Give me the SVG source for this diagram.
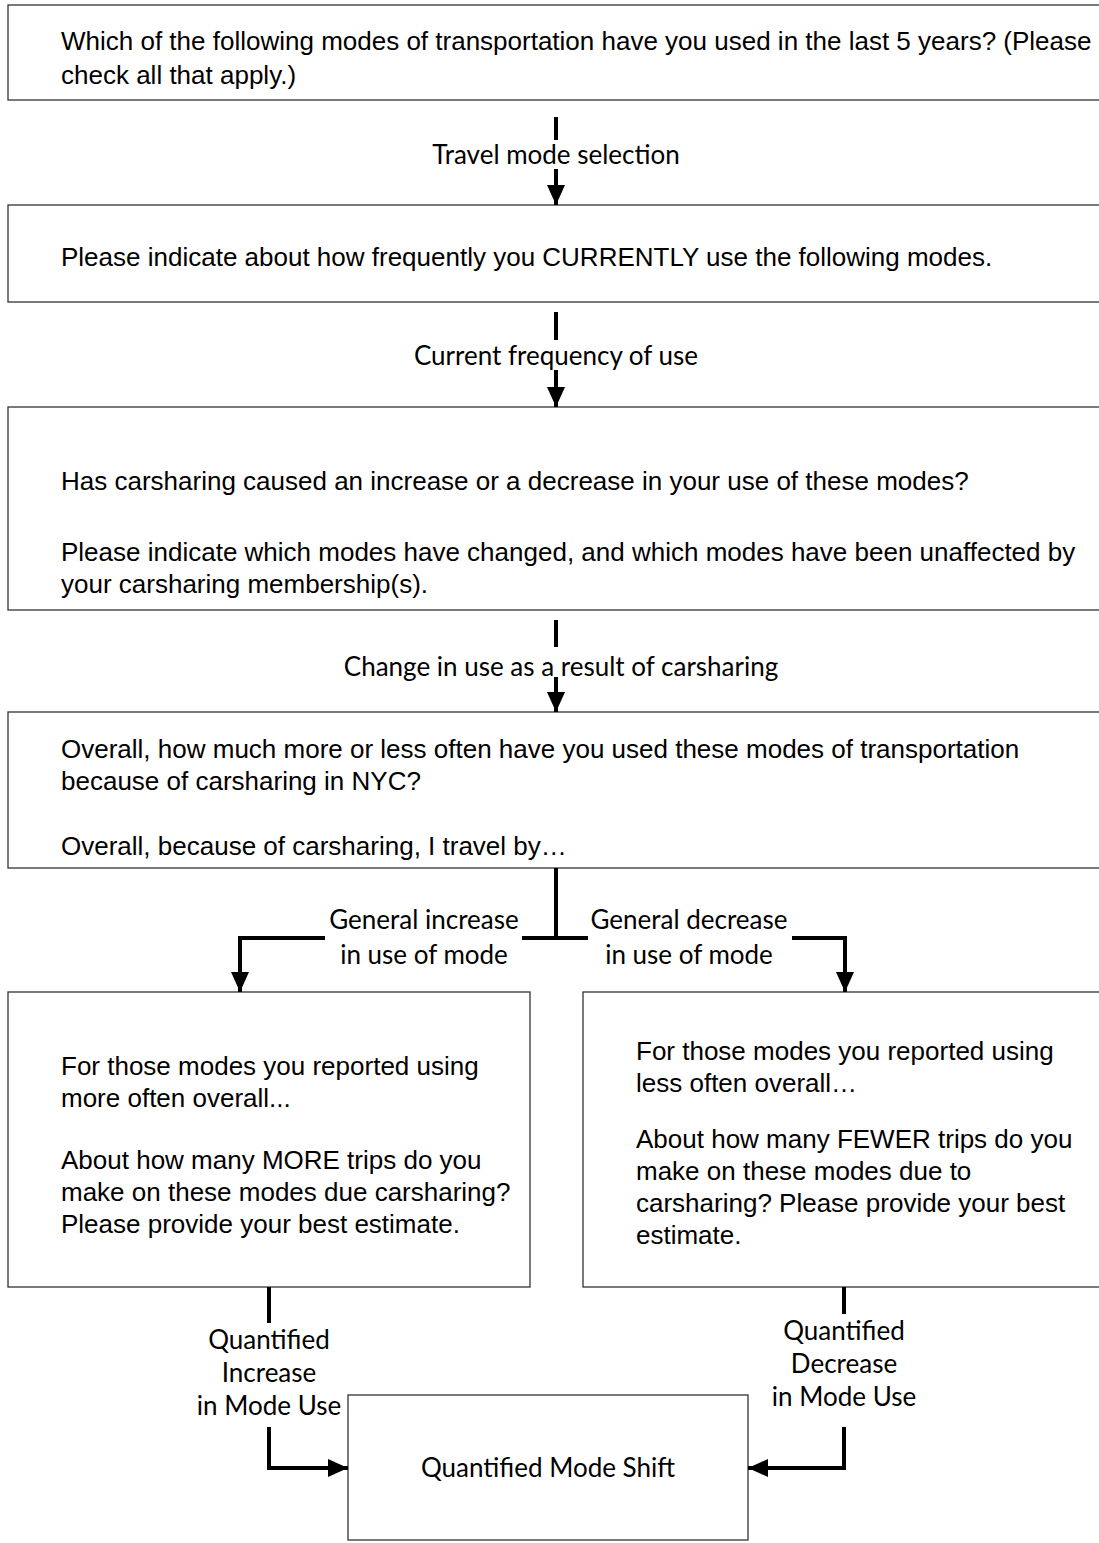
<svg xmlns="http://www.w3.org/2000/svg" width="1099" height="1543" viewBox="0 0 1099 1543">
<style>
.box{fill:#fff;stroke:#333;stroke-width:1.3}
.t{font-family:"Liberation Sans",Arial,sans-serif;font-size:26px;fill:#000}
.l{font-family:Lato,"Open Sans",sans-serif;font-size:26px;fill:#000;text-anchor:middle}
.c{fill:none;stroke:#000;stroke-width:4}
</style>
<defs>
<marker id="ah" markerUnits="userSpaceOnUse" markerWidth="20" markerHeight="20" viewBox="0 0 20 20" refX="20" refY="10" orient="auto">
<path d="M0,1 L20,10 L0,19 Z" fill="#000"/>
</marker>
</defs>
<rect width="1099" height="1543" fill="#fff"/>
<g id="n1"><rect class="box" x="8" y="5" width="1100" height="95"/>
<text class="t" x="61" y="50">Which of the following modes of transportation have you used in the last 5 years? (Please</text>
<text class="t" x="61" y="84">check all that apply.)</text></g>
<g id="n2"><rect class="box" x="8" y="205" width="1100" height="97"/>
<text class="t" x="61" y="266">Please indicate about how frequently you CURRENTLY use the following modes.</text></g>
<g id="n3"><rect class="box" x="8" y="407" width="1100" height="203"/>
<text class="t" x="61" y="490">Has carsharing caused an increase or a decrease in your use of these modes?</text>
<text class="t" x="61" y="561">Please indicate which modes have changed, and which modes have been unaffected by</text>
<text class="t" x="61" y="593">your carsharing membership(s).</text></g>
<g id="n4"><rect class="box" x="8" y="712" width="1100" height="156"/>
<text class="t" x="61" y="758">Overall, how much more or less often have you used these modes of transportation</text>
<text class="t" x="61" y="790">because of carsharing in NYC?</text>
<text class="t" x="61" y="855">Overall, because of carsharing, I travel by…</text></g>
<g id="n5"><rect class="box" x="8" y="992" width="522" height="295"/>
<text class="t" x="61" y="1075">For those modes you reported using</text>
<text class="t" x="61" y="1107">more often overall...</text>
<text class="t" x="61" y="1169">About how many MORE trips do you</text>
<text class="t" x="61" y="1201">make on these modes due carsharing?</text>
<text class="t" x="61" y="1233">Please provide your best estimate.</text></g>
<g id="n6"><rect class="box" x="583" y="992" width="525" height="295"/>
<text class="t" x="636" y="1060">For those modes you reported using</text>
<text class="t" x="636" y="1092">less often overall…</text>
<text class="t" x="636" y="1148">About how many FEWER trips do you</text>
<text class="t" x="636" y="1180">make on these modes due to</text>
<text class="t" x="636" y="1212">carsharing? Please provide your best</text>
<text class="t" x="636" y="1244">estimate.</text></g>
<g id="n7"><rect class="box" x="348" y="1395" width="400" height="145"/>
<text class="l" x="548" y="1477">Quantified Mode Shift</text></g>
<g id="connectors">
<path class="c" d="M556,117 V140"/>
<path class="c" d="M556,169 V205" marker-end="url(#ah)"/>
<path class="c" d="M556,312 V340"/>
<path class="c" d="M556,370 V407" marker-end="url(#ah)"/>
<path class="c" d="M556,620 V647"/>
<path class="c" d="M556,677 V712" marker-end="url(#ah)"/>
<path class="c" d="M556,868 V938 M522,938 H588"/>
<path class="c" d="M325,938 H240 V992" marker-end="url(#ah)"/>
<path class="c" d="M792,938 H845 V992" marker-end="url(#ah)"/>
<path class="c" d="M269,1287 V1323"/>
<path class="c" d="M269,1427 V1468 H348" marker-end="url(#ah)"/>
<path class="c" d="M844,1287 V1314"/>
<path class="c" d="M844,1427 V1468 H748" marker-end="url(#ah)"/>
</g>
<g id="labels">
<text class="l" x="556" y="164">Travel mode selection</text>
<text class="l" x="556" y="365">Current frequency of use</text>
<text class="l" x="561" y="676">Change in use as a result of carsharing</text>
<text class="l" x="424" y="929">General increase</text>
<text class="l" x="424" y="964">in use of mode</text>
<text class="l" x="689" y="929">General decrease</text>
<text class="l" x="689" y="964">in use of mode</text>
<text class="l" x="269" y="1349">Quantified</text>
<text class="l" x="269" y="1382">Increase</text>
<text class="l" x="269" y="1415">in Mode Use</text>
<text class="l" x="844" y="1340">Quantified</text>
<text class="l" x="844" y="1373">Decrease</text>
<text class="l" x="844" y="1406">in Mode Use</text>
</g>
</svg>
